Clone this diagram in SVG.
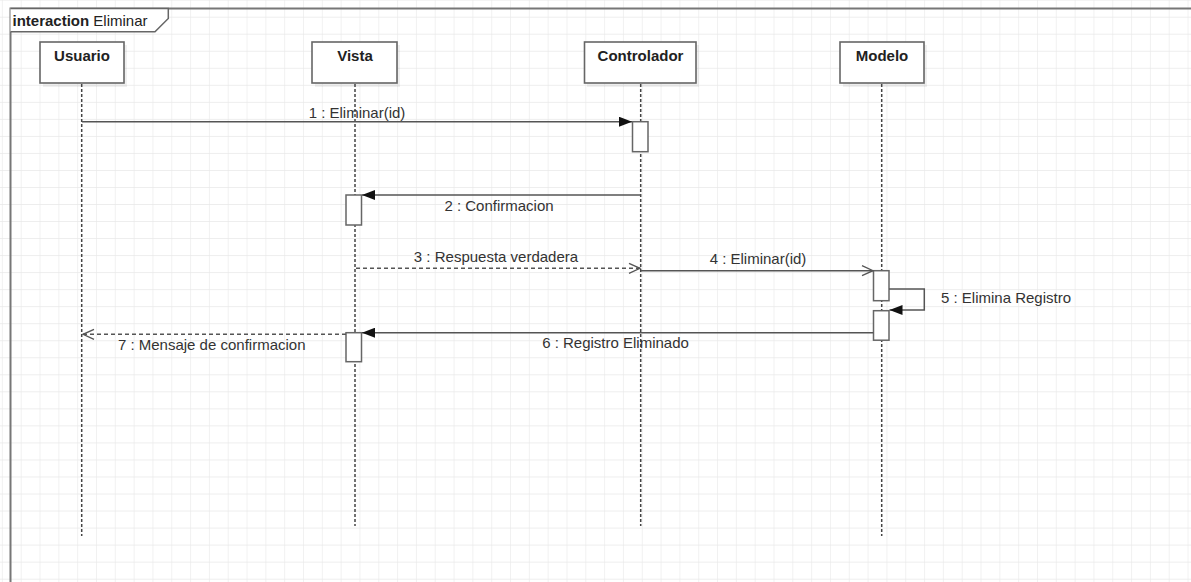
<svg xmlns="http://www.w3.org/2000/svg" width="1191" height="582" viewBox="0 0 1191 582">
<style>
.lbl{font-family:"Liberation Sans",Arial,sans-serif;font-size:15px;fill:#333}
.name{font-family:"Liberation Sans",Arial,sans-serif;font-size:15px;font-weight:bold;fill:#222;text-anchor:middle}
.box{fill:#fff;stroke:#666;stroke-width:1.6}
.shadow{fill:#000;opacity:0.06}
.life{stroke:#444;stroke-width:1.5;stroke-dasharray:3 2;fill:none}
.act{fill:#fff;stroke:#666;stroke-width:1.5}
.msg{stroke:#555;stroke-width:1.5;fill:none}
.ret{stroke:#555;stroke-width:1.5;fill:none;stroke-dasharray:4 3}
</style>
<defs>
<pattern id="grid" patternUnits="userSpaceOnUse" x="1.88" y="-0.33" width="18.82" height="17.03">
<path d="M0 0H18.82M0 0V17.03" stroke="#e8e8e8" stroke-width="1.2" fill="none"/>
</pattern>
<marker id="fill" markerWidth="14" markerHeight="10" refX="13" refY="5" orient="auto" markerUnits="userSpaceOnUse">
<path d="M0 0L13 5L0 10Z" fill="#111"/>
</marker>
<marker id="open" markerWidth="14" markerHeight="12" refX="12" refY="6" orient="auto" markerUnits="userSpaceOnUse">
<path d="M1 1L12 6L1 11" fill="none" stroke="#555" stroke-width="1.3"/>
</marker>
</defs>
<rect width="1191" height="582" fill="#fff"/>
<rect width="1191" height="582" fill="url(#grid)"/>
<g id="frame">
<path d="M10.5 600V8.5H1200" fill="none" stroke="#777" stroke-width="2"/>
<path d="M10.5 8.5H168.3V18.5L155 31.7H10.5" fill="#fff" stroke="#666" stroke-width="1.5"/>
<text x="12.5" y="25.5" font-family="Liberation Sans,Arial,sans-serif" font-size="15" fill="#222"><tspan font-weight="bold">interaction</tspan> Eliminar</text>
</g>
<g id="usuario">
<rect class="shadow" x="43" y="45" width="84" height="42"/>
<rect class="box" x="40" y="42" width="84" height="41"/>
<text class="name" x="82" y="61">Usuario</text>
<path class="life" d="M81.7 84V536"/>
</g>
<g id="vista">
<rect class="shadow" x="315" y="45" width="85" height="42"/>
<rect class="box" x="312" y="42" width="85" height="41"/>
<text class="name" x="355" y="61">Vista</text>
<path class="life" d="M355 84V526"/>
</g>
<g id="controlador">
<rect class="shadow" x="587" y="45" width="112" height="42"/>
<rect class="box" x="584.5" y="42" width="111.5" height="41"/>
<text class="name" x="640.5" y="61">Controlador</text>
<path class="life" d="M640.7 84V526"/>
</g>
<g id="modelo">
<rect class="shadow" x="843" y="45" width="84" height="42"/>
<rect class="box" x="840" y="42" width="84" height="41"/>
<text class="name" x="882" y="61">Modelo</text>
<path class="life" d="M881.7 84V536"/>
</g>
<g id="activations">
<rect class="act" x="632.5" y="121.7" width="15.5" height="30"/>
<rect class="act" x="346" y="195" width="15.5" height="30"/>
<rect class="act" x="873.5" y="270.7" width="15.5" height="30"/>
<rect class="act" x="873.5" y="310.7" width="15.5" height="29.5"/>
<rect class="act" x="346" y="332.7" width="15.5" height="29"/>
</g>
<g id="connectors">
<path class="msg" d="M82 121.7H632" marker-end="url(#fill)"/>
<path class="msg" d="M640.7 195H362" marker-end="url(#fill)"/>
<path class="ret" d="M356 268.3H640" marker-end="url(#open)"/>
<path class="msg" d="M641 270.7H873" marker-end="url(#open)"/>
<path class="msg" d="M889 289H924.3V310H889.5" marker-end="url(#fill)"/>
<path class="msg" d="M873.5 332.7H362" marker-end="url(#fill)"/>
<path class="ret" d="M346 334.3H83" marker-end="url(#open)"/>
</g>
<g id="labels">
<text class="lbl" x="357" y="118" text-anchor="middle">1 : Eliminar(id)</text>
<text class="lbl" x="499" y="211" text-anchor="middle">2 : Confirmacion</text>
<text class="lbl" x="496" y="262" text-anchor="middle">3 : Respuesta verdadera</text>
<text class="lbl" x="758" y="264" text-anchor="middle">4 : Eliminar(id)</text>
<text class="lbl" x="941" y="303">5 : Elimina Registro</text>
<text class="lbl" x="615.5" y="348" text-anchor="middle">6 : Registro Eliminado</text>
<text class="lbl" x="211.7" y="350" text-anchor="middle">7 : Mensaje de confirmacion</text>
</g>
</svg>
